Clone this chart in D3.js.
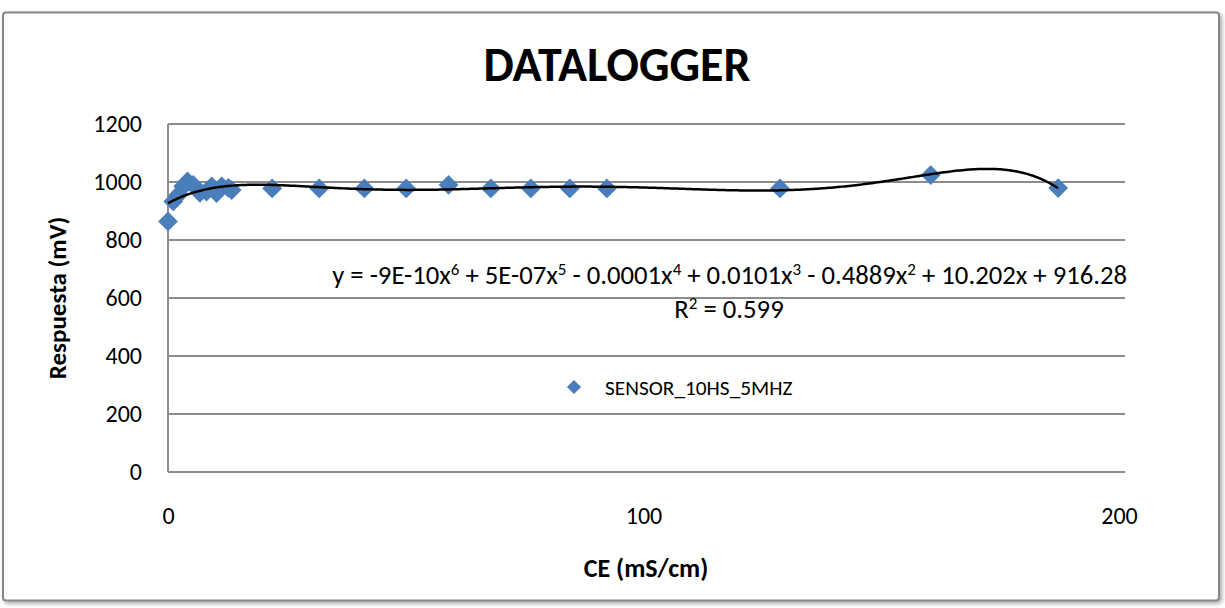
<!DOCTYPE html>
<html><head><meta charset="utf-8">
<script src="https://cdn.jsdelivr.net/npm/d3@7"></script>
<style>
html,body{margin:0;padding:0;background:#fff;}
svg{display:block;font-family:Carlito,Calibri,Lato,"Open Sans",sans-serif;}
</style></head>
<body>
<script>
// ---- data ----
const ceValues = [0, 1.1, 2.2, 3.2, 4.1, 5.3, 6.7, 8.1, 9.2, 10.2, 11.3, 12.7, 13.4,
                  21.9, 31.8, 41.3, 50.1, 59.0, 67.9, 76.3, 84.5, 92.3, 128.7, 160.4, 187.2];
const responseValues = [864, 933, 956, 985, 1002, 990, 963, 967, 985, 962, 985, 980, 972,
                        978, 978, 978, 978, 990, 978, 978, 978, 978, 978, 1024, 979];
const seriesName = "SENSOR_10HS_5MHZ";
const xTicks = [0, 100, 200];
const yTicks = [0, 200, 400, 600, 800, 1000, 1200];
const titleText = "DATALOGGER";
const xTitle = "CE (mS/cm)";
const yTitle = "Respuesta (mV)";

const W = 1225, H = 608;
const svg = d3.select("body").append("svg").attr("width", W).attr("height", H);

// outer chart frame
const defs = svg.append("defs");
const f = defs.append("filter").attr("id","sh").attr("x","-2%").attr("y","-2%").attr("width","104%").attr("height","104%");
f.append("feDropShadow").attr("dx",2).attr("dy",2).attr("stdDeviation",2).attr("flood-color","#000").attr("flood-opacity",0.35);
svg.append("rect").attr("x",3).attr("y",12.5).attr("width",1216).attr("height",588)
  .attr("rx",3).attr("fill","#fff").attr("stroke","#868686").attr("stroke-width",2).attr("filter","url(#sh)");

const plot = {left:168, right:1125, top:124, bottom:472};
const x = d3.scaleLinear().domain([0,200]).range([plot.left, 1119]);
const y = d3.scaleLinear().domain([0,1200]).range([plot.bottom, plot.top]);

// gridlines
svg.append("g").selectAll("line").data(yTicks.filter(d=>d>0)).join("line")
  .attr("x1",plot.left).attr("x2",plot.right)
  .attr("y1",d=>y(d)).attr("y2",d=>y(d))
  .attr("stroke","#8c8c8c").attr("stroke-width",2);

// axes lines
svg.append("line").attr("x1",plot.left).attr("x2",plot.right).attr("y1",y(0)).attr("y2",y(0))
  .attr("stroke","#8c8c8c").attr("stroke-width",2);
svg.append("line").attr("x1",plot.left).attr("x2",plot.left).attr("y1",plot.top).attr("y2",y(0))
  .attr("stroke","#8c8c8c").attr("stroke-width",2);

// tick labels via d3 axes
const yAxis = d3.axisLeft(y).tickValues(yTicks).tickSize(0).tickPadding(0).tickFormat(d3.format("d"));
const gy = svg.append("g").attr("transform",`translate(${plot.left-26},0)`).call(yAxis);
gy.select(".domain").remove();
gy.selectAll("text").attr("font-size",24).attr("fill","#000").attr("font-family","Carlito,Calibri,Lato,sans-serif");

const xAxis = d3.axisBottom(x).tickValues(xTicks).tickSize(0).tickPadding(0).tickFormat(d3.format("d"));
const gx = svg.append("g").attr("transform",`translate(0,${y(0)+46})`).call(xAxis);
gx.select(".domain").remove();
gx.selectAll("text").attr("font-size",24).attr("fill","#000").attr("dy","0").attr("y",0).attr("dominant-baseline","middle").attr("font-family","Carlito,Calibri,Lato,sans-serif");

// trendline: degree-6 least squares polynomial fit (like the spreadsheet trendline)
function polyfit(xs, ys, deg, s){
  const n = deg+1;
  const A = Array.from({length:n},()=>new Array(n+1).fill(0));
  xs.forEach((xv,i)=>{
    const t = xv/s; const p=[];
    for(let k=0;k<n;k++) p.push(Math.pow(t,k));
    for(let r=0;r<n;r++){ for(let c=0;c<n;c++) A[r][c]+=p[r]*p[c]; A[r][n]+=p[r]*ys[i]; }
  });
  for(let c=0;c<n;c++){
    let piv=c; for(let r=c+1;r<n;r++) if(Math.abs(A[r][c])>Math.abs(A[piv][c])) piv=r;
    [A[c],A[piv]]=[A[piv],A[c]];
    for(let r=0;r<n;r++){ if(r===c) continue; const fct=A[r][c]/A[c][c]; for(let k=c;k<=n;k++) A[r][k]-=fct*A[c][k]; }
  }
  return A.map((row,i)=>row[n]/row[i]);
}
const coef = polyfit(ceValues, responseValues, 6, 100);
const fx = v => coef.reduce((acc,c,k)=>acc + c*Math.pow(v/100,k), 0);
const xmin = d3.min(ceValues), xmax = d3.max(ceValues);
const curve = d3.range(0, 401).map(i => { const v = xmin + (xmax-xmin)*i/400; return [v, fx(v)]; });

// markers
svg.append("g").selectAll("path").data(ceValues.map((v,i)=>[v,responseValues[i]])).join("path")
  .attr("d", d3.symbol().type(d3.symbolSquare).size(196))
  .attr("transform", d=>`translate(${x(d[0])},${y(d[1])}) rotate(45)`)
  .attr("fill","#4a7ebb");

svg.append("path").datum(curve)
  .attr("d", d3.line().x(d=>x(d[0])).y(d=>y(d[1])).curve(d3.curveLinear))
  .attr("fill","none").attr("stroke","#000").attr("stroke-width",2.5);

// title
svg.append("text").attr("x",617).attr("y",81).attr("text-anchor","middle")
  .attr("font-size",48).attr("font-weight","bold").text(titleText);

// axis titles
svg.append("text").attr("x",646).attr("y",577).attr("text-anchor","middle")
  .attr("font-size",26).attr("font-weight","bold").text(xTitle);
svg.append("text").attr("transform","translate(66,298) rotate(-90)").attr("text-anchor","middle")
  .attr("font-size",25).attr("font-weight","bold").text(yTitle);

// trendline equation
const eq = svg.append("text").attr("x",1127).attr("y",284).attr("text-anchor","end").attr("font-size",26.7);
const parts = [["y = -9E-10x",""],["6","sup"],[" + 5E-07x",""],["5","sup"],[" - 0.0001x",""],["4","sup"],
  [" + 0.0101x",""],["3","sup"],[" - 0.4889x",""],["2","sup"],[" + 10.202x + 916.28",""]];
parts.forEach((p,i)=>{
  const ts = eq.append("tspan").text(p[0]);
  if(p[1]==="sup") ts.attr("font-size",17).attr("dy",-9);
  else if(i>0) ts.attr("dy",9);
});
const r2 = svg.append("text").attr("x",729).attr("y",318).attr("text-anchor","middle").attr("font-size",26.7);
r2.append("tspan").text("R");
r2.append("tspan").text("2").attr("font-size",17).attr("dy",-9);
r2.append("tspan").text(" = 0.599").attr("dy",9);

// legend
svg.append("path").attr("d", d3.symbol().type(d3.symbolSquare).size(100)())
  .attr("transform","translate(574,387) rotate(45)").attr("fill","#4a7ebb");
svg.append("text").attr("x",605).attr("y",395).attr("font-size",21.3).text(seriesName);
</script>
</body></html>
